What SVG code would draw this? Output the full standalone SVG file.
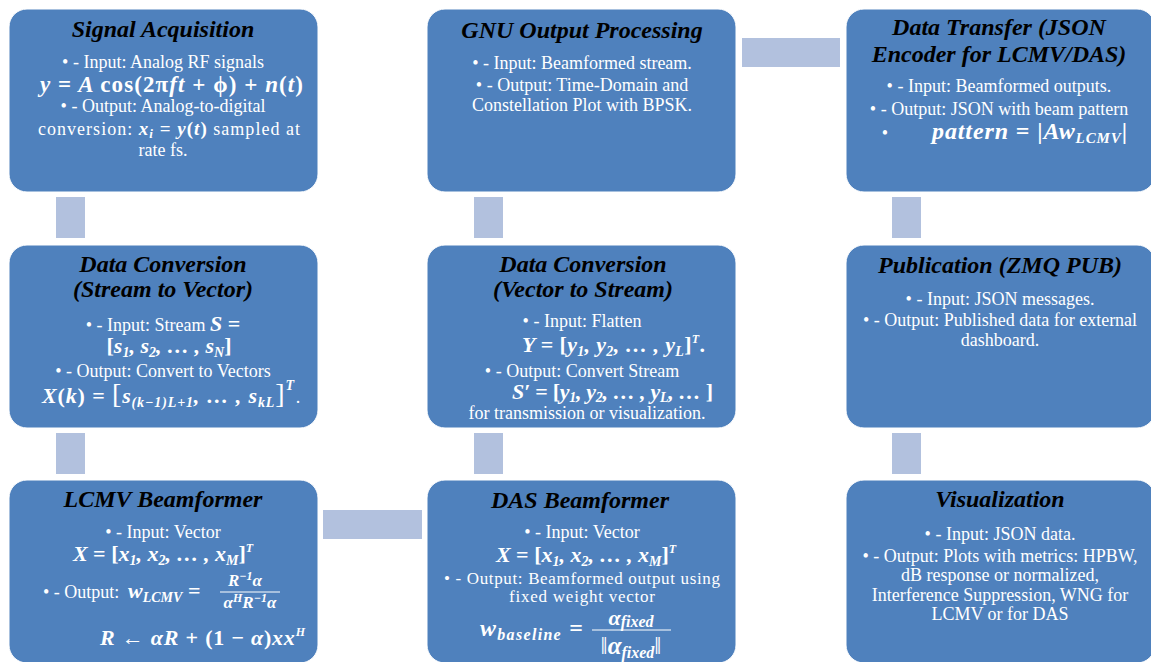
<svg xmlns="http://www.w3.org/2000/svg" width="1151" height="662" viewBox="0 0 1151 662">
  <style>
    .box { fill: #4F81BD; stroke: #FFFFFF; stroke-width: 1; }
    .conn { fill: #B2C1DE; }
    text { font-family: "Liberation Serif", "Times New Roman", Tinos, "DejaVu Serif", serif; }
    .title { font-weight: bold; font-style: italic; font-size: 24px; fill: #000000; text-anchor: middle; }
    .body { font-size: 18px; fill: #FFFFFF; text-anchor: middle; }
    .m { font-weight: bold; font-style: italic; font-size: 22px; fill: #FFFFFF; }
    .ms { font-weight: bold; font-style: italic; font-size: 17px; fill: #FFFFFF; }
    .up { font-style: normal; }
    .rg { font-weight: normal; font-style: normal; }
    .sub { font-size: 14px; }
    .sup { font-size: 12px; }
    .frac { stroke: #FFFFFF; stroke-width: 1; }
  </style>

  <!-- connectors: plain bars between neighbouring blocks -->
  <g id="connectors">
    <rect class="conn" x="56" y="197" width="29" height="41"/>
    <rect class="conn" x="56" y="433" width="29" height="41"/>
    <rect class="conn" x="474" y="197" width="29" height="41"/>
    <rect class="conn" x="474" y="433" width="29" height="41"/>
    <rect class="conn" x="892" y="197" width="29" height="41"/>
    <rect class="conn" x="892" y="433" width="29" height="41"/>
    <rect class="conn" x="742" y="38" width="98" height="29"/>
    <rect class="conn" x="323" y="510" width="99" height="29"/>
  </g>

  <!-- row 1 -->
  <g id="signal-acquisition">
    <rect class="box" x="9" y="9" width="309" height="183" rx="18"/>
    <text class="title" x="163" y="37">Signal Acquisition</text>
    <text class="body" x="163" y="68">• - Input: Analog RF signals</text>
    <text class="m" x="40" y="92" style="font-size:23px" textLength="263" lengthAdjust="spacing">y <tspan class="up">=</tspan> A <tspan class="up">cos(2π</tspan>ft <tspan class="up">+ ϕ) +</tspan> n<tspan class="up">(</tspan>t<tspan class="up">)</tspan></text>
    <text class="body" x="163" y="112">• - Output: Analog-to-digital</text>
    <text class="body" x="38" y="135" style="text-anchor:start" textLength="262" lengthAdjust="spacing">conversion: <tspan class="m" style="font-size:19px">x</tspan><tspan class="m sub" style="font-size:13px" dy="3">i</tspan><tspan class="m" style="font-size:19px" dy="-3"> <tspan class="up">=</tspan> y<tspan class="up">(</tspan>t<tspan class="up">)</tspan></tspan> sampled at</text>
    <text class="body" x="163" y="156">rate fs.</text>
  </g>

  <g id="gnu-output-processing">
    <rect class="box" x="427" y="9" width="309" height="183" rx="18"/>
    <text class="title" x="582" y="38">GNU Output Processing</text>
    <text class="body" x="582" y="69">• - Input: Beamformed stream.</text>
    <text class="body" x="582" y="91">• - Output: Time-Domain and</text>
    <text class="body" x="582" y="111">Constellation Plot with BPSK.</text>
  </g>

  <g id="data-transfer">
    <rect class="box" x="846" y="9" width="309" height="183" rx="18"/>
    <text class="title" x="999" y="35">Data Transfer (JSON</text>
    <text class="title" x="999" y="62">Encoder for LCMV/DAS)</text>
    <text class="body" x="999" y="92">• - Input: Beamformed outputs.</text>
    <text class="body" x="999" y="115">• - Output: JSON with beam pattern</text>
    <text class="body" x="885" y="139">•</text>
    <text class="m" x="932" y="139" style="font-size:24px" textLength="195" lengthAdjust="spacing">pattern <tspan class="up">= |</tspan>Aw<tspan style="font-size:15px" dy="4">LCMV</tspan><tspan class="up" dy="-4">|</tspan></text>
  </g>

  <!-- row 2 -->
  <g id="stream-to-vector">
    <rect class="box" x="9" y="245" width="309" height="183" rx="18"/>
    <text class="title" x="163" y="272">Data Conversion</text>
    <text class="title" x="163" y="297">(Stream to Vector)</text>
    <text class="body" x="163" y="331">• - Input: Stream <tspan class="m">S <tspan class="up">=</tspan></tspan></text>
    <text class="m" x="169" y="353" style="text-anchor:middle"><tspan class="up">[</tspan>s<tspan class="sub" dy="4">1</tspan><tspan dy="-4">, s</tspan><tspan class="sub" dy="4">2</tspan><tspan dy="-4">, … , s</tspan><tspan class="sub" dy="4">N</tspan><tspan class="up" dy="-4">]</tspan></text>
    <text class="body" x="163" y="377">• - Output: Convert to Vectors</text>
    <text class="m" x="42" y="403" textLength="252" lengthAdjust="spacing">X<tspan class="up">(</tspan>k<tspan class="up">) = </tspan><tspan class="up rg" style="font-size:28px">[</tspan>s<tspan class="sub" dy="4">(k−1)L+1</tspan><tspan dy="-4">, … , s</tspan><tspan class="sub" dy="4">kL</tspan><tspan class="up rg" dy="-4" style="font-size:28px">]</tspan><tspan class="sub" dy="-13">T</tspan></text>
    <text class="body" x="298" y="403">.</text>
  </g>

  <g id="vector-to-stream">
    <rect class="box" x="427" y="245" width="309" height="183" rx="18"/>
    <text class="title" x="583" y="272">Data Conversion</text>
    <text class="title" x="583" y="297">(Vector to Stream)</text>
    <text class="body" x="582" y="327">• - Input: Flatten</text>
    <text class="m" x="522" y="352" textLength="183" lengthAdjust="spacing">Y <tspan class="up">= [</tspan>y<tspan class="sub" dy="4">1</tspan><tspan dy="-4">, y</tspan><tspan class="sub" dy="4">2</tspan><tspan dy="-4">, … , y</tspan><tspan class="sub" dy="4">L</tspan><tspan class="up" dy="-4">]</tspan><tspan class="sup" dy="-9">T</tspan><tspan class="up" dy="9">.</tspan></text>
    <text class="body" x="582" y="377">• - Output: Convert Stream</text>
    <text class="m" x="512" y="399" textLength="201" lengthAdjust="spacing">S′ <tspan class="up">= [</tspan>y<tspan class="sub" dy="3">1</tspan><tspan dy="-3">, y</tspan><tspan class="sub" dy="3">2</tspan><tspan dy="-3">, … , y</tspan><tspan class="sub" dy="3">L</tspan><tspan dy="-3">, … </tspan><tspan class="up">]</tspan></text>
    <text class="body" x="587" y="419">for transmission or visualization.</text>
  </g>

  <g id="publication">
    <rect class="box" x="846" y="245" width="309" height="183" rx="18"/>
    <text class="title" x="1000" y="273">Publication (ZMQ PUB)</text>
    <text class="body" x="1000" y="305">• - Input: JSON messages.</text>
    <text class="body" x="1000" y="326">• - Output: Published data for external</text>
    <text class="body" x="1000" y="346">dashboard.</text>
  </g>

  <!-- row 3 -->
  <g id="lcmv-beamformer">
    <rect class="box" x="9" y="480" width="309" height="183" rx="18"/>
    <text class="title" x="163" y="507">LCMV Beamformer</text>
    <text class="body" x="163" y="538">• - Input: Vector</text>
    <text class="m" x="163" y="561" style="text-anchor:middle">X <tspan class="up">= [</tspan>x<tspan class="sub" dy="4">1</tspan><tspan dy="-4">, x</tspan><tspan class="sub" dy="4">2</tspan><tspan dy="-4">, … , x</tspan><tspan class="sub" dy="4">M</tspan><tspan class="up" dy="-4">]</tspan><tspan class="sup" dy="-9">T</tspan></text>
    <text class="body" x="43" y="598" style="text-anchor:start">• - Output:</text>
    <text class="m" x="128" y="598">w<tspan class="sub" dy="4">LCMV</tspan><tspan class="up" dy="-4"> =</tspan></text>
    <text class="ms" x="245" y="586" style="text-anchor:middle">R<tspan style="font-size:12px" dy="-6">−1</tspan><tspan dy="6">α</tspan></text>
    <line class="frac" x1="220" y1="592" x2="280" y2="592"/>
    <text class="ms" x="250" y="608" style="text-anchor:middle">α<tspan style="font-size:12px" dy="-6">H</tspan><tspan dy="6">R</tspan><tspan style="font-size:12px" dy="-6">−1</tspan><tspan dy="6">α</tspan></text>
    <text class="m" x="100" y="645" textLength="205" lengthAdjust="spacing">R <tspan class="up rg">←</tspan> αR <tspan class="up">+ (1 − </tspan>α<tspan class="up">)</tspan>xx<tspan class="sup" dy="-9">H</tspan></text>
  </g>

  <g id="das-beamformer">
    <rect class="box" x="427" y="480" width="309" height="183" rx="18"/>
    <text class="title" x="580" y="508">DAS Beamformer</text>
    <text class="body" x="582" y="538">• - Input: Vector</text>
    <text class="m" x="586" y="562" style="text-anchor:middle">X <tspan class="up">= [</tspan>x<tspan class="sub" dy="4">1</tspan><tspan dy="-4">, x</tspan><tspan class="sub" dy="4">2</tspan><tspan dy="-4">, … , x</tspan><tspan class="sub" dy="4">M</tspan><tspan class="up" dy="-4">]</tspan><tspan class="sup" dy="-9">T</tspan></text>
    <text class="body" x="582" y="584" style="font-size:17px" textLength="276" lengthAdjust="spacing">• - Output: Beamformed output using</text>
    <text class="body" x="582" y="602" style="font-size:17px" textLength="146" lengthAdjust="spacing">fixed weight vector</text>
    <text class="m" x="480" y="636" style="font-size:24px" textLength="103" lengthAdjust="spacing">w<tspan style="font-size:16px" dy="4">baseline</tspan><tspan class="up" dy="-4"> =</tspan></text>
    <text class="m" x="631" y="625" style="text-anchor:middle;font-size:22px">α<tspan style="font-size:16px" dy="2">fixed</tspan></text>
    <line class="frac" x1="592" y1="630" x2="671" y2="630"/>
    <text class="m" x="631" y="654" style="text-anchor:middle;font-size:25px"><tspan class="up rg">‖</tspan>α<tspan style="font-size:16px" dy="4">fixed</tspan><tspan class="up rg" dy="-4">‖</tspan></text>
  </g>

  <g id="visualization">
    <rect class="box" x="846" y="480" width="309" height="183" rx="18"/>
    <text class="title" x="1000" y="507">Visualization</text>
    <text class="body" x="1000" y="540">• - Input: JSON data.</text>
    <text class="body" x="1000" y="562">• - Output: Plots with metrics: HPBW,</text>
    <text class="body" x="1000" y="581">dB response or normalized,</text>
    <text class="body" x="1000" y="601">Interference Suppression, WNG for</text>
    <text class="body" x="1000" y="620">LCMV or for DAS</text>
  </g>
</svg>
